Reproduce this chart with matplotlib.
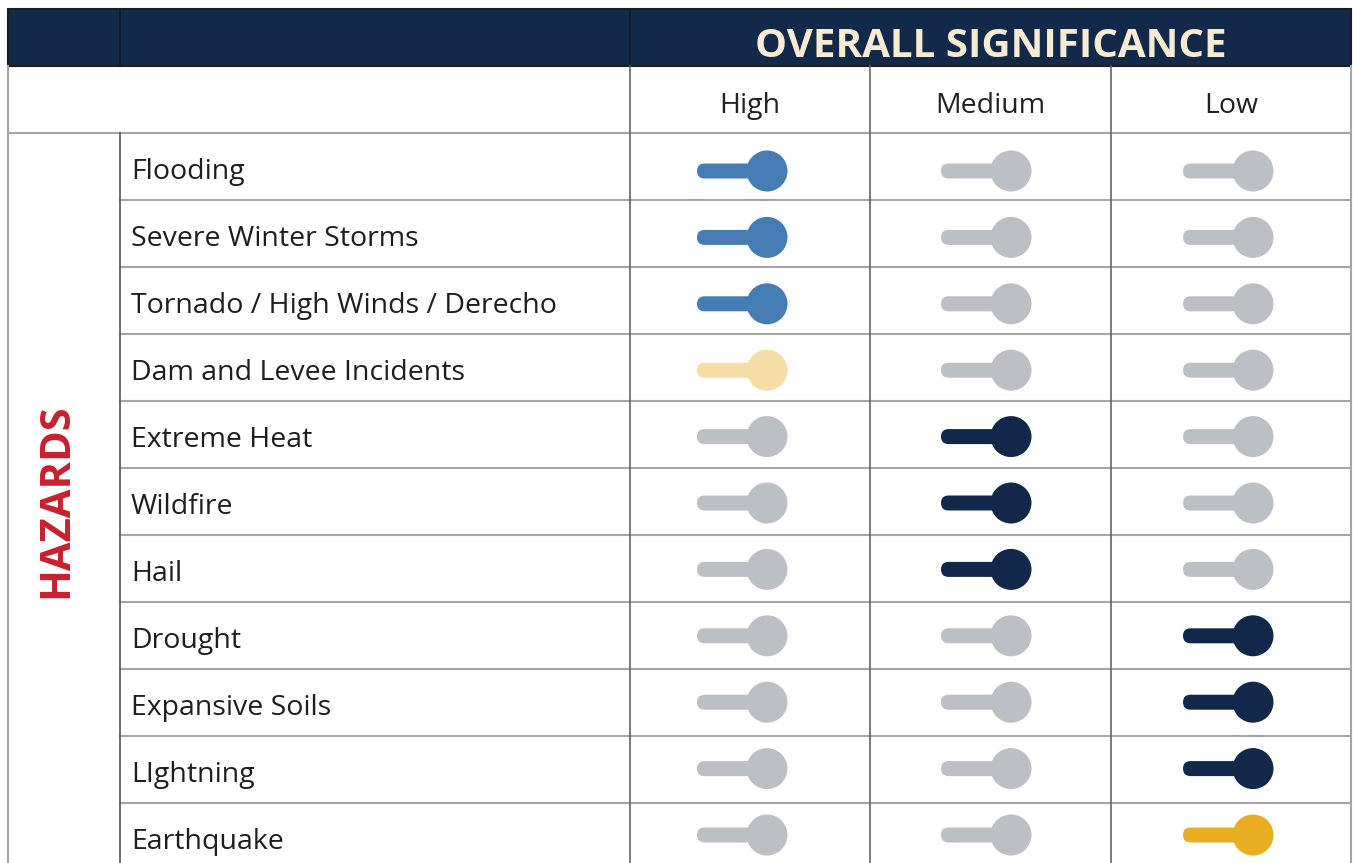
import numpy as np
import matplotlib.pyplot as plt
from matplotlib.patches import Rectangle, Circle, FancyBboxPatch

# data
hazards = ['Flooding', 'Severe Winter Storms', 'Tornado / High Winds / Derecho',
           'Dam and Levee Incidents', 'Extreme Heat', 'Wildfire', 'Hail',
           'Drought', 'Expansive Soils', 'LIghtning', 'Earthquake']
levels = ['High', 'Medium', 'Low']
# index of the active column for each hazard
active = [0, 0, 0, 0, 1, 1, 1, 2, 2, 2, 2]
active_colors = ['#457cb3', '#457cb3', '#457cb3', '#f6dea6', '#12284a', '#12284a',
                 '#12284a', '#12284a', '#12284a', '#12284a', '#e9ae22']
bold_rows = [True, True, True, True, False, False, False, False, False, False, False]

navy = '#12294a'
grid = '#a6a6a6'
off = '#bcc0c4'

plt.rcParams['font.family'] = ['Open Sans', 'DejaVu Sans']

W, H = 1353, 863
fig = plt.figure(figsize=(W / 100, H / 100), dpi=100)
ax = fig.add_axes([0, 0, 1, 1])
ax.set_xlim(0, W)
ax.set_ylim(H, 0)
ax.axis('off')

left, right = 8, 1351
c1, c2 = 120, 630
col_edges = [630, 870, 1111, 1351]
top, hdr_bot, sub_bot = 9, 66, 133
row_h = 67
toggle_step = 66.4
knob_shift = [17, 20.5, 22]

# header band
ax.add_patch(Rectangle((left, top), right - left, hdr_bot - top, fc=navy, ec='#1c1c1c', lw=1.5))
for x in [c1, c2]:
    ax.plot([x, x], [top, hdr_bot], color='#0a1a30', lw=1.2)
ax.text((col_edges[0] + col_edges[-1]) / 2, 57, 'OVERALL SIGNIFICANCE',
        color='#f7ebd4', fontsize=29, fontweight='bold', ha='center', va='baseline')

# sub header
for i, lv in enumerate(levels):
    ax.text((col_edges[i] + col_edges[i + 1]) / 2, hdr_bot + 47, lv,
            color='#222222', fontsize=20.5, ha='center', va='baseline')

n = len(hazards)
bottom = sub_bot + row_h * n

# grid lines
ax.plot([left, right], [sub_bot, sub_bot], color=grid, lw=1.5)
for i in range(1, n):
    y = sub_bot + row_h * i
    ax.plot([c1, right], [y, y], color=grid, lw=1.5)
ax.plot([left, left], [hdr_bot, bottom], color=grid, lw=1.5)
ax.plot([right, right], [hdr_bot, bottom], color=grid, lw=1.5)
ax.plot([c1, c1], [sub_bot, bottom], color='#555555', lw=1.2)
for x in col_edges[:-1]:
    ax.plot([x, x], [hdr_bot, bottom], color='#666666', lw=1.2)

ax.text(57, 501, 'HAZARDS', color='#c8202f',
        fontsize=30, fontweight='bold', rotation=90, ha='center', va='center')

# rows
for r, name in enumerate(hazards):
    y0 = sub_bot + row_h * r
    yc = sub_bot + 38 + toggle_step * r
    ax.text(c1 + 11, y0 + 46, name, color='#1e1e1e', fontsize=20.5,
            fontweight='medium' if bold_rows[r] else 'normal', va='baseline', ha='left')
    for j in range(len(levels)):
        xc = (col_edges[j] + col_edges[j + 1]) / 2 + knob_shift[j]
        col = active_colors[r] if active[r] == j else off
        bx0 = xc - 70
        ax.add_patch(FancyBboxPatch((bx0 + 7.5, yc), 70 - 7.5, 0,
                                    boxstyle='round,pad=7.5', fc=col, ec='none'))
        ax.add_patch(Circle((xc, yc), 20.5, fc=col, ec='none'))

fig.savefig('out.png', dpi=100, facecolor='white')
